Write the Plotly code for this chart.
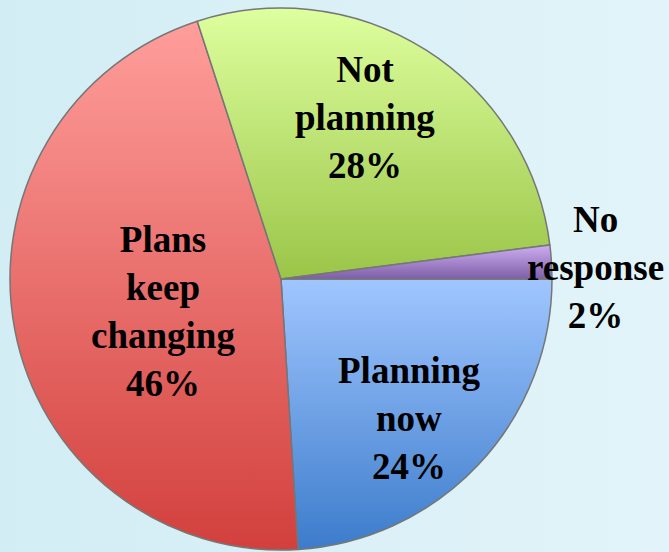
import json
import math

import plotly.graph_objects as go

# Survey answers, clockwise from 3 o'clock
labels = ["Planning now", "Plans keep changing", "Not planning", "No response"]
label_lines = ["Planning<br>now", "Plans<br>keep<br>changing", "Not<br>planning", "No<br>response"]
values = [24, 46, 28, 2]

# Slice fills: vertical gradient from top colour to bottom colour
top_colors = ["#A0C6FF", "#FF9E9B", "#DEFF9E", "#CDAEF2"]
bottom_colors = ["#3C7CCB", "#D2403D", "#9AC548", "#7E5EA6"]
mid_colors = ["#6EA1E6", "#E8706C", "#BDE274", "#A686CC"]

# Label placement: fraction of the radius along each slice's mid-angle, plus a nudge (px)
label_radius = [0.70, 0.45, 0.67, 1.16]
label_nudge = [(-10, 10), (2, 10), (-13, -8), (1, 8)]

W, H = 669, 552
CX, CY, R = 281, 279, 271  # pie centre and radius in pixels (from top-left)

LABEL_FONT = "Liberation Serif"

fig = go.Figure(
    go.Pie(
        labels=labels,
        values=values,
        sort=False,
        direction="clockwise",
        rotation=90,
        textinfo="none",
        hoverinfo="label+percent",
        marker=dict(colors=mid_colors, line=dict(color="#767676", width=1.5)),
        domain=dict(
            x=[(CX - R) / W, (CX + R) / W],
            y=[(H - CY - R) / H, (H - CY + R) / H],
        ),
        showlegend=False,
    )
)

# Percentage labels centred on each slice's mid-angle
total = sum(values)
annotations = []
cum = 0
for i, v in enumerate(values):
    mid = (cum + v / 2) / total * 2 * math.pi  # clockwise from east
    cum += v
    dx = label_radius[i] * R * math.cos(mid) + label_nudge[i][0]
    dy = label_radius[i] * R * math.sin(mid) + label_nudge[i][1]
    pct = round(v / total * 100)
    annotations.append(
        dict(
            x=(CX + dx) / W,
            y=1 - (CY + dy) / H,
            xref="paper",
            yref="paper",
            xanchor="center",
            yanchor="middle",
            showarrow=False,
            align="center",
            text=f"<b>{label_lines[i]}<br>{pct}%</b>",
            font=dict(family=LABEL_FONT, size=37, color="#000000"),
        )
    )

fig.update_layout(
    width=W,
    height=H,
    margin=dict(l=0, r=0, t=0, b=0),
    paper_bgcolor="rgba(0,0,0,0)",
    plot_bgcolor="rgba(0,0,0,0)",
    annotations=annotations,
)

post_script = """
var gd = document.getElementById('{plot_id}');
var tops = %s;
var bottoms = %s;
document.body.style.margin = '0';
gd.style.background = 'linear-gradient(90deg, #D2EDF4 0%%, #E2F4F9 100%%)';
function paintSlices() {
  var svg = gd.querySelector('svg.main-svg');
  var ns = 'http://www.w3.org/2000/svg';
  var defs = svg.querySelector('defs');
  if (!defs) { defs = document.createElementNS(ns, 'defs'); svg.insertBefore(defs, svg.firstChild); }
  var paths = gd.querySelectorAll('g.slice path.surface');
  paths.forEach(function (p, i) {
    var id = 'slicefill' + i;
    if (!document.getElementById(id)) {
      var g = document.createElementNS(ns, 'linearGradient');
      g.setAttribute('id', id);
      g.setAttribute('x1', '0'); g.setAttribute('y1', '0');
      g.setAttribute('x2', '0'); g.setAttribute('y2', '1');
      [[0, tops[i]], [1, bottoms[i]]].forEach(function (s) {
        var st = document.createElementNS(ns, 'stop');
        st.setAttribute('offset', s[0]);
        st.setAttribute('stop-color', s[1]);
        g.appendChild(st);
      });
      defs.appendChild(g);
    }
    p.style.fill = 'url(#' + id + ')';
  });
}
paintSlices();
gd.on('plotly_afterplot', paintSlices);
""" % (json.dumps(top_colors), json.dumps(bottom_colors))

fig.write_html("out.html", post_script=post_script)
